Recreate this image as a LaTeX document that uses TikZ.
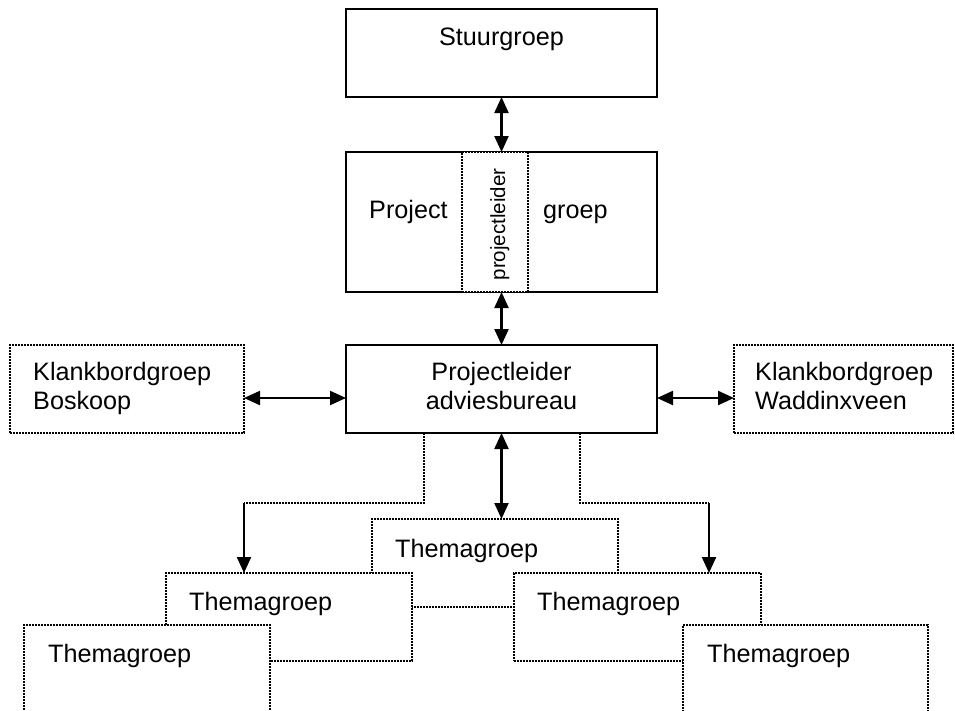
\documentclass[tikz,border=0pt]{standalone}
\usepackage{fontspec}
\setmainfont{Liberation Sans}
\usetikzlibrary{arrows.meta}
\begin{document}
\begin{tikzpicture}[x=1pt,y=-1pt,
  solidbox/.style={draw, line width=2.4pt, fill=white, inner sep=0pt, outer sep=0pt, anchor=north west},
  dotbox/.style={draw, line width=1.8pt, dash pattern=on 2pt off 1pt, fill=white, inner sep=0pt, outer sep=0pt, anchor=north west},
  lbl/.style={font=\fontsize{25.2}{29}\selectfont, inner sep=0pt, anchor=base west, align=left},
  clbl/.style={font=\fontsize{25.2}{29}\selectfont, inner sep=0pt, anchor=base, align=center},
  smalllbl/.style={font=\fontsize{20.5}{24}\selectfont, inner sep=0pt, anchor=base, rotate=90},
  dbl/.style={{Triangle[length=16pt,width=14pt]}-{Triangle[length=16pt,width=14pt]}, line width=2.2pt},
  sarrow/.style={-{Triangle[length=16pt,width=14pt]}, line width=2.2pt},
  dotline/.style={line width=1.8pt, dash pattern=on 2pt off 1pt}
]
\useasboundingbox (0,0) rectangle (955,710);
\clip (0,0) rectangle (955,710);

% top boxes
\node[solidbox, minimum width=311pt, minimum height=88pt] (stuur) at (346,9) {};
\node[lbl, anchor=base] (stuurtext) at (501.5,45) {Stuurgroep};

\node[solidbox, minimum width=311pt, minimum height=140pt] (proj) at (346,152) {};
\node[dotbox, minimum width=66pt, minimum height=140pt] (plbox) at (462,152) {};
\node[lbl] (projtext) at (369,218) {Project};
\node[lbl] (groeptext) at (543,218) {groep};
\node[smalllbl] (pltext) at (505,224.5) {projectleider};

\node[solidbox, minimum width=311pt, minimum height=88pt] (central) at (346,345) {};
\node[clbl] (centraltext) at (501.5,409) {Projectleider\\adviesbureau};

\node[dotbox, minimum width=234pt, minimum height=88pt] (bosk) at (10,345) {};
\node[lbl] (bosktext) at (33,409) {Klankbordgroep\\Boskoop};

\node[dotbox, minimum width=219pt, minimum height=88pt] (wadd) at (734,345) {};
\node[lbl] (waddtext) at (755,409) {Klankbordgroep\\Waddinxveen};

% theme groups
\node[dotbox, minimum width=246pt, minimum height=88pt] (t1) at (372,519) {};
\node[lbl] (t1text) at (395,557) {Themagroep};
\node[dotbox, minimum width=246pt, minimum height=88pt] (t2) at (166,573) {};
\node[lbl] (t2text) at (189,610) {Themagroep};
\node[dotbox, minimum width=247pt, minimum height=88pt] (t4) at (514,573) {};
\node[lbl] (t4text) at (537,610) {Themagroep};
\node[dotbox, minimum width=246pt, minimum height=88pt] (t3) at (24,625) {};
\node[lbl] (t3text) at (48,662) {Themagroep};
\node[dotbox, minimum width=245pt, minimum height=88pt] (t5) at (683,625) {};
\node[lbl] (t5text) at (707,662) {Themagroep};

% connectors
\draw[dbl] (stuur.south) -- (proj.north);
\draw[dbl] (proj.south) -- (central.north);
\draw[dbl] ([yshift=-9pt]bosk.east) -- ([yshift=-9pt]central.west);
\draw[dbl] ([yshift=-9pt]central.east) -- ([yshift=-9pt]wadd.west);
\draw[dbl] (central.south) -- (central.south |- t1.north);

\coordinate (lbend) at (244,503);
\coordinate (rbend) at (709,503);
\draw[dotline] ([xshift=-77.5pt]central.south) |- (lbend);
\draw[sarrow] (lbend) -- (lbend |- t2.north);
\draw[dotline] ([xshift=78.5pt]central.south) |- (rbend);
\draw[sarrow] (rbend) -- (rbend |- t4.north);
\end{tikzpicture}
\end{document}
